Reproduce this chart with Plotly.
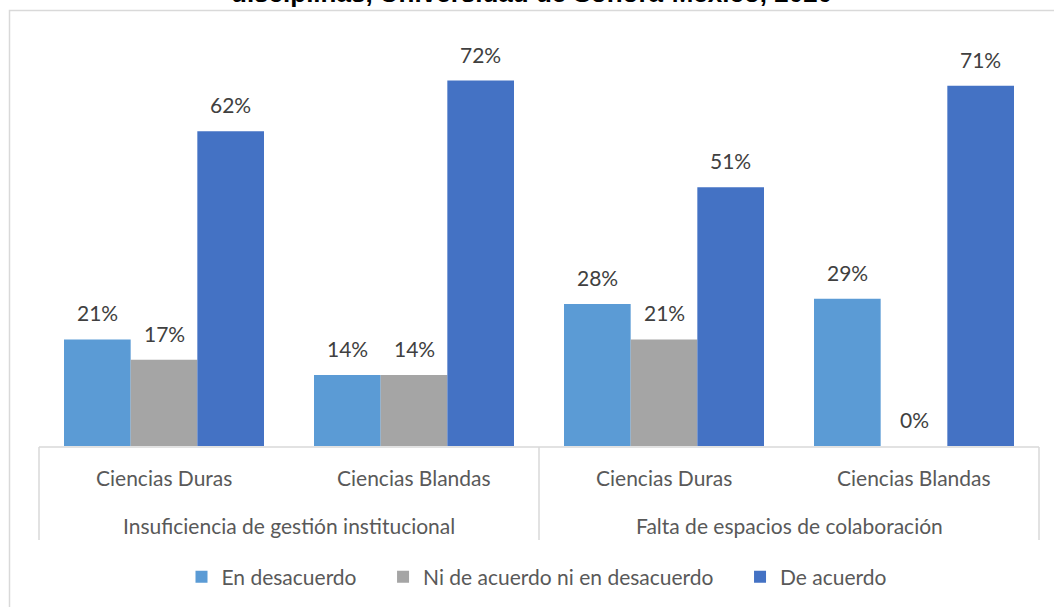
import plotly.graph_objects as go

groups = ["Insuficiencia de gestión institucional", "Falta de espacios de colaboración"]
subcats = ["Ciencias Duras", "Ciencias Blandas", "Ciencias Duras", "Ciencias Blandas"]
series_names = ["En desacuerdo", "Ni de acuerdo ni en desacuerdo", "De acuerdo"]
en_desacuerdo = [21, 14, 28, 29]
ni_ni = [17, 14, 21, 0]
de_acuerdo = [62, 72, 51, 71]
colors = ["#5B9BD5", "#A5A5A5", "#4472C4"]
title_text = "disciplinas, Universidad de Sonora-México, 2020"

FONT = "Lato"
W, H = 1054, 607
L, R, T, B = 39, 15, 40, 161
plot_h = H - T - B
plot_w = W - L - R

xs = list(range(len(subcats)))
all_series = [en_desacuerdo, ni_ni, de_acuerdo]

NBSP = "\u00a0"
fig = go.Figure()
for k, (name, vals, col) in enumerate(zip(series_names, all_series, colors)):
    label = name + (NBSP * 4 if k < len(series_names) - 1 else "")
    fig.add_trace(go.Bar(x=xs, y=vals, name=label, marker=dict(color=col, line=dict(width=0))))

fig.update_layout(
    width=W, height=H,
    margin=dict(l=L, r=R, t=T, b=B, autoexpand=False),
    barmode="group", bargap=0.2, bargroupgap=0,
    plot_bgcolor="white", paper_bgcolor="white",
    xaxis=dict(range=[-0.5, len(subcats) - 0.5], showticklabels=False, showgrid=False,
               zeroline=False, showline=False, fixedrange=True),
    yaxis=dict(range=[0, 80], showticklabels=False, showgrid=False, zeroline=False,
               showline=False),
    showlegend=True,
    legend=dict(orientation="h", x=(537 - L) / plot_w, xanchor="center", y=(446 - 577) / plot_h,
                yanchor="middle", font=dict(family=FONT, size=21, color="#595959"),
                traceorder="normal", itemclick=False),
    font=dict(family=FONT),
)

# data labels
cat_w = plot_w / len(subcats)
bar_w = cat_w * 0.8 / 3
for k, vals in enumerate(all_series):
    for i, v in enumerate(vals):
        fig.add_annotation(x=xs[i], y=v, xref="x", yref="y", text=f"{v}%", showarrow=False,
                           xshift=(k - 1) * bar_w, yanchor="bottom", yshift=12,
                           font=dict(family=FONT, size=21, color="#404040"))

# category labels
for i, s in enumerate(subcats):
    fig.add_annotation(x=xs[i], y=(446 - 478) / plot_h, xref="x", yref="paper", text=s,
                       showarrow=False, yanchor="middle",
                       font=dict(family=FONT, size=21, color="#595959"))
for g, name in enumerate(groups):
    fig.add_annotation(x=2 * g + 0.5, y=(446 - 525) / plot_h, xref="x", yref="paper", text=name,
                       showarrow=False, yanchor="middle",
                       font=dict(family=FONT, size=21, color="#595959"))

line_col = "#D9D9D9"
y_axis = -1 / plot_h
y_bot = (446 - 540) / plot_h
fig.add_shape(type="line", xref="paper", yref="paper", x0=0, x1=1, y0=y_axis, y1=y_axis,
              line=dict(color=line_col, width=1.5))
for xp in [0, 0.5, 1]:
    fig.add_shape(type="line", xref="paper", yref="paper", x0=xp, x1=xp, y0=y_axis, y1=y_bot,
                  line=dict(color=line_col, width=1.5))

# outer chart frame
fig.add_shape(type="rect", xref="paper", yref="paper",
              x0=(9.5 - L) / plot_w, x1=1.1, y0=-0.6, y1=1 + (T - 10.5) / plot_h,
              line=dict(color=line_col, width=1.5), layer="below")

# title, clipped at the top edge as in the reference
fig.add_annotation(x=(531 - L) / plot_w, y=1 + (T - 10.5) / plot_h, xref="paper", yref="paper",
                   text=title_text, showarrow=False, yanchor="bottom", xanchor="center",
                   font=dict(family="Liberation Sans", size=26, color="#000000", weight="bold"))

fig.write_html("out.html", config={"displayModeBar": False},
               post_script="document.body.style.margin='0';")
